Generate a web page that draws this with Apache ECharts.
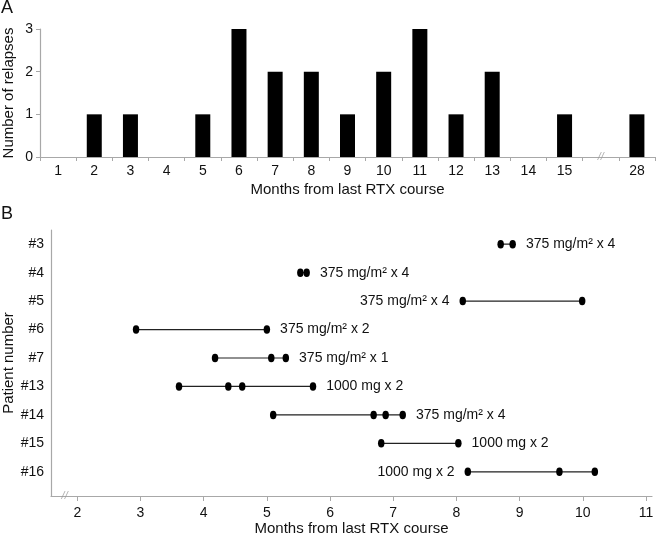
<!DOCTYPE html>
<html><head><meta charset="utf-8">
<script src="https://cdn.jsdelivr.net/npm/echarts@6/dist/echarts.min.js"></script>
<style>html,body{margin:0;padding:0;background:#fff}#c{width:661px;height:540px}</style>
</head><body><div id="c"></div>
<script>
// ---- Panel A data ----
const monthCats = ['1','2','3','4','5','6','7','8','9','10','11','12','13','14','15','','28'];
const relapses  = [0,1,1,0,1,3,2,2,1,2,3,1,2,0,1,null,1];
const relapseTicks = [0,1,2,3];

// ---- Panel B data ----
const patients = ['#3','#4','#5','#6','#7','#13','#14','#15','#16'];
const relapseMonths = [
  [8.70, 8.89],
  [5.53, 5.63],
  [8.10, 9.99],
  [2.93, 5.00],
  [4.18, 5.07, 5.30],
  [3.61, 4.39, 4.61, 5.73],
  [5.10, 6.69, 6.88, 7.15],
  [6.81, 8.03],
  [8.18, 9.63, 10.19]
];
const doses = ['375 mg/m² x 4','375 mg/m² x 4','375 mg/m² x 4','375 mg/m² x 2','375 mg/m² x 1',
               '1000 mg x 2','375 mg/m² x 4','1000 mg x 2','1000 mg x 2'];
const monthTicks = [2,3,4,5,6,7,8,9,10,11];

// label placement (style only)
const labelSide = ['right','right','left','right','right','right','right','right','left'];

const FONT = "'Liberation Sans', Arial, sans-serif";
const AX = '#a8a8a8';

const chart = echarts.init(document.getElementById('c'), null, {renderer:'canvas'});

const rowSeries = patients.map((p, i) => {
  const pts = relapseMonths[i];
  const side = labelSide[i];
  const labIdx = side === 'right' ? pts.length - 1 : 0;
  return {
    type: 'line', xAxisIndex: 1, yAxisIndex: 1, name: p,
    symbol: 'circle', symbolSize: [6.5, 8.5],
    itemStyle: {color: '#000'},
    lineStyle: {color: '#222', width: 1.2},
    silent: true,
    data: pts.map((m, j) => ({
      value: [m, i],
      label: j === labIdx ? {show: true, position: side, distance: 10, formatter: doses[i],
        color: '#111', fontSize: 14, fontFamily: FONT} : {show: false}
    }))
  };
});

chart.setOption({
  animation: false,
  textStyle: {fontFamily: FONT},
  title: [
    {text: 'A', left: 1, top: -1, padding: 0, textStyle: {fontSize: 18, fontWeight: 'normal', color: '#111', fontFamily: FONT}},
    {text: 'B', left: 1, top: 205, padding: 0, textStyle: {fontSize: 18, fontWeight: 'normal', color: '#111', fontFamily: FONT}}
  ],
  grid: [
    {left: 40, right: 6, top: 29, height: 128, containLabel: false, outerBoundsMode: 'none'},
    {left: 51, right: 9, top: 230, height: 266, containLabel: false, outerBoundsMode: 'none'}
  ],
  xAxis: [
    {
      type: 'category', gridIndex: 0, data: monthCats,
      axisLine: {lineStyle: {color: AX, width: 1.2}},
      axisTick: {show: true, length: 4, lineStyle: {color: AX}},
      axisLabel: {color: '#111', fontSize: 14, margin: 7},
      name: 'Months from last RTX course', nameLocation: 'middle', nameGap: 25, nameMoveOverlap: false,
      nameTextStyle: {color: '#111', fontSize: 15}
    },
    {
      type: 'value', gridIndex: 1, min: 1.584, max: 11.095,
      splitLine: {show: false},
      axisLine: {onZero: false, lineStyle: {color: AX, width: 1.2}},
      axisTick: {show: true, length: 5, lineStyle: {color: AX}, customValues: monthTicks},
      axisLabel: {color: '#111', fontSize: 14, margin: 10, customValues: monthTicks},
      name: 'Months from last RTX course', nameLocation: 'middle', nameGap: 25, nameMoveOverlap: false,
      nameTextStyle: {color: '#111', fontSize: 15}
    }
  ],
  yAxis: [
    {
      type: 'value', gridIndex: 0, min: 0, max: 3, interval: 1,
      splitLine: {show: false},
      axisLine: {show: true, lineStyle: {color: AX, width: 1.2}},
      axisTick: {show: true, length: 4, lineStyle: {color: AX}},
      axisLabel: {color: '#111', fontSize: 14, margin: 7},
      name: 'Number of relapses', nameLocation: 'middle', nameGap: 24, nameMoveOverlap: false,
      nameTextStyle: {color: '#111', fontSize: 15}
    },
    {
      type: 'value', gridIndex: 1, inverse: true, min: -0.5, max: 8.85,
      splitLine: {show: false},
      axisLine: {show: true, onZero: false, lineStyle: {color: AX, width: 1.2}},
      axisTick: {show: false},
      axisLabel: {color: '#111', fontSize: 14, margin: 7,
        customValues: patients.map((p, i) => i),
        formatter: v => patients[Math.round(v)] || ''},
      name: 'Patient number', nameLocation: 'middle', nameGap: 35, nameMoveOverlap: false,
      nameTextStyle: {color: '#111', fontSize: 15}
    }
  ],
  series: [
    {
      type: 'bar', xAxisIndex: 0, yAxisIndex: 0, data: relapses,
      barWidth: 15, silent: true,
      itemStyle: {color: '#000', borderWidth: 0}
    },
    {
      type: 'scatter', xAxisIndex: 0, yAxisIndex: 0, symbolSize: 0, silent: true,
      data: [['', 0]],
      label: {show: true, position: 'inside', formatter: '//', color: '#999', fontSize: 11, fontStyle: 'italic'}
    },
    {
      type: 'scatter', xAxisIndex: 1, yAxisIndex: 1, symbolSize: 0, silent: true, clip: false,
      data: [[1.8, 8.85]],
      label: {show: true, position: 'inside', formatter: '//', color: '#999', fontSize: 11, fontStyle: 'italic'}
    },
    ...rowSeries
  ]
});
</script></body></html>
